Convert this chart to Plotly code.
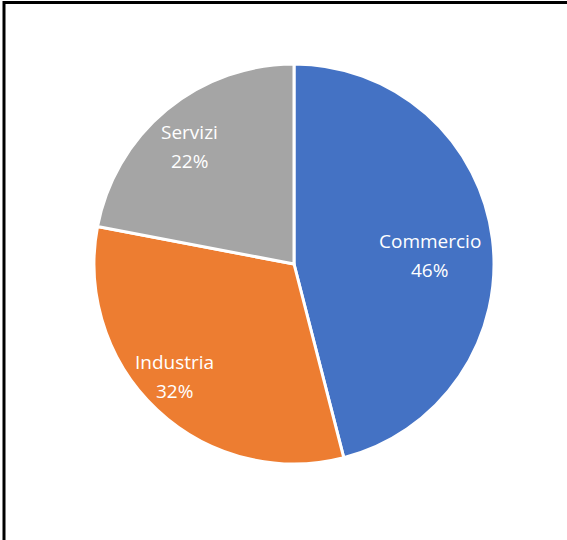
import math
import plotly.graph_objects as go

W, H = 567, 540
labels = ["Commercio", "Industria", "Servizi"]
values = [46, 32, 22]
colors = ["#4472C4", "#ED7D31", "#A5A5A5"]

# pie box in pixels
cx, cy, r = 294, 264, 200
label_radius = [0.68, 0.82, 0.785]  # fraction of pie radius where each label sits
label_angle_shift = [3.6, 3.7, -1.9]  # degrees, best-fit nudge of each label
line_gap = 14.5                      # half the distance between label lines (px)

fig = go.Figure(go.Pie(
    labels=labels,
    values=values,
    sort=False,
    direction="clockwise",
    rotation=0,
    marker=dict(colors=colors, line=dict(color="white", width=3)),
    textinfo="none",
    hoverinfo="label+percent",
    showlegend=False,
    domain=dict(x=[(cx - r) / W, (cx + r) / W], y=[1 - (cy + r) / H, 1 - (cy - r) / H]),
))

# data labels placed near each slice's mid-angle (computed from the values)
total = sum(values)
annotations = []
cum = 0
font = dict(family="Open Sans", size=19, color="white")
for lab, v, lr, da in zip(labels, values, label_radius, label_angle_shift):
    mid = (cum + v / 2) / total * 2 * math.pi + math.radians(da)
    cum += v
    px = cx + lr * r * math.sin(mid)
    py = cy - lr * r * math.cos(mid)
    xp, yp = px / W, 1 - py / H
    pct = f"{round(v / total * 100)}%"
    annotations.append(dict(x=xp, y=yp, xref="paper", yref="paper", text=lab,
                            showarrow=False, font=font, yshift=line_gap,
                            xanchor="center", yanchor="middle"))
    annotations.append(dict(x=xp, y=yp, xref="paper", yref="paper", text=pct,
                            showarrow=False, font=font, yshift=-line_gap,
                            xanchor="center", yanchor="middle"))

fig.update_layout(
    width=W, height=H,
    margin=dict(l=0, r=0, t=0, b=0),
    paper_bgcolor="white",
    plot_bgcolor="white",
    annotations=annotations,
    shapes=[
        dict(type="line", xref="paper", yref="paper",
             x0=3 / W, x1=1, y0=1 - 2.5 / H, y1=1 - 2.5 / H,
             line=dict(color="black", width=3)),
        dict(type="line", xref="paper", yref="paper",
             x0=4 / W, x1=4 / W, y0=0, y1=1 - 1 / H,
             line=dict(color="black", width=3)),
    ],
)

fig.write_html("out.html")
